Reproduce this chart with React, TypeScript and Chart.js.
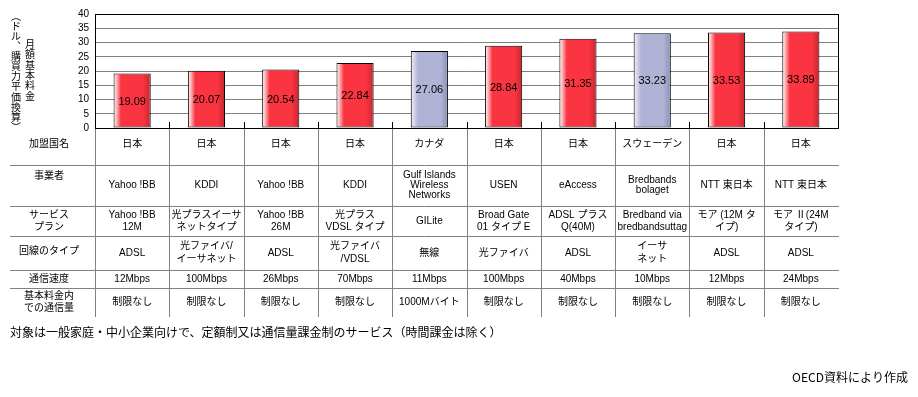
import { useEffect, useRef } from 'react';
import { Chart, registerables } from 'chart.js';
Chart.register(...registerables);

const values = [19.09, 20.07, 20.54, 22.84, 27.06, 28.84, 31.35, 33.23, 33.53, 33.89];
const countries = ['日本', '日本', '日本', '日本', 'カナダ', '日本', '日本', 'スウェーデン', '日本', '日本'];
const operators = ['Yahoo !BB', 'KDDI', 'Yahoo !BB', 'KDDI', 'Gulf Islands\nWireless\nNetworks', 'USEN', 'eAccess', 'Bredbands\nbolaget', 'NTT 東日本', 'NTT 東日本'];
const plans = ['Yahoo !BB\n12M', '光プラスイーサ\nネットタイプ', 'Yahoo !BB\n26M', '光プラス\nVDSL タイプ', 'GILite', 'Broad Gate\n01 タイプ E', 'ADSL プラス\nQ(40M)', 'Bredband via\nbredbandsuttag', 'モア (12M タ\nイプ)', 'モア Ⅱ(24M\nタイプ)'];
const lineTypes = ['ADSL', '光ファイバ/\nイーサネット', 'ADSL', '光ファイバ\n/VDSL', '無線', '光ファイバ', 'ADSL', 'イーサ\nネット', 'ADSL', 'ADSL'];
const speeds = ['12Mbps', '100Mbps', '26Mbps', '70Mbps', '11Mbps', '100Mbps', '40Mbps', '10Mbps', '12Mbps', '24Mbps'];
const volumes = ['制限なし', '制限なし', '制限なし', '制限なし', '1000Mバイト', '制限なし', '制限なし', '制限なし', '制限なし', '制限なし'];
const rowLabels = ['加盟国名', '事業者', 'サービス\nプラン', '回線のタイプ', '通信速度', '基本料金内\nでの通信量'];
const yTitleRight = '月額基本料金';
const yTitleLeft = '︵ドル︑購買力平価換算︶';
const footnote = '対象は一般家庭・中小企業向けで、定額制又は通信量課金制のサービス（時間課金は除く）';
const source = 'OECD資料により作成';

const FONT = '"Liberation Sans", "Noto Sans CJK JP", sans-serif';
const CJK = '"Noto Sans CJK JP", sans-serif';
const rowHeights = [37, 41, 30, 34, 18, 29];
const lineHeights = [11, 10, 12, 13, 11, 12];

const isJapan = (i: number) => countries[i] === '日本';

const tablePlugin = {
  id: 'tablePlugin',
  afterDatasetsDraw(chart: any) {
    const { ctx, chartArea: a, scales } = chart;
    const x = scales.x;
    const n = values.length;
    const cw = (a.right - a.left) / n;
    ctx.save();
    // value labels
    ctx.font = '11px ' + FONT;
    ctx.fillStyle = '#000';
    ctx.textAlign = 'center';
    ctx.textBaseline = 'middle';
    const meta = chart.getDatasetMeta(0);
    meta.data.forEach((bar: any, i: number) => {
      const p = bar.getProps(['x', 'y', 'base'], true);
      ctx.fillText(values[i].toFixed(2), p.x, (p.y + p.base) / 2 + 1);
    });
    // frame
    ctx.strokeStyle = '#000';
    ctx.lineWidth = 1;
    ctx.strokeRect(Math.round(a.left) + 0.5, Math.round(a.top) + 0.5, Math.round(a.right - a.left), Math.round(a.bottom - a.top));
    const bottom = Math.round(a.bottom);
    const tableBottom = bottom + rowHeights.reduce((s, h) => s + h, 0);
    // tick marks above axis
    for (let i = 1; i < n; i++) {
      const px = Math.round(a.left + i * cw) + 0.5;
      ctx.beginPath();
      ctx.moveTo(px, bottom - 6);
      ctx.lineTo(px, bottom);
      ctx.stroke();
    }
    // table lines
    ctx.strokeStyle = '#808080';
    for (let i = 0; i < n; i++) {
      const px = Math.round(a.left + i * cw) + 0.5;
      ctx.beginPath();
      ctx.moveTo(px, bottom + 1);
      ctx.lineTo(px, tableBottom);
      ctx.stroke();
    }
    let yy = bottom;
    for (let r = 0; r < rowHeights.length - 1; r++) {
      yy += rowHeights[r];
      ctx.beginPath();
      ctx.moveTo(10, yy + 0.5);
      ctx.lineTo(Math.round(a.right) + 1, yy + 0.5);
      ctx.stroke();
    }
    // table text
    const rows = [countries, operators, plans, lineTypes, speeds, volumes];
    ctx.font = '10px ' + FONT;
    ctx.fillStyle = '#000';
    let top = bottom;
    rows.forEach((row, r) => {
      const h = rowHeights[r];
      const lh = lineHeights[r];
      const drawCell = (text: string, cx: number, centerY: number) => {
        const lines = text.split('\n');
        const sy = centerY - ((lines.length - 1) * lh) / 2;
        lines.forEach((ln, k) => ctx.fillText(ln, cx, sy + k * lh));
      };
      const cy = top + h / 2 + (r === 0 ? -2 : 0);
      row.forEach((t, i) => drawCell(t, x.getPixelForValue(i), cy));
      const labelY = r === 1 ? top + 11 : r === 3 ? cy - 2 : cy;
      drawCell(rowLabels[r], 49, labelY);
      top += h;
    });
    // y title (vertical)
    ctx.font = '10px ' + CJK;
    [...yTitleRight].forEach((ch, k) => ctx.fillText(ch, 30, 44 + k * 10.4));
    [...yTitleLeft].forEach((ch, k) => ctx.fillText(ch, 16, 16 + k * 10.1));
    // footnote and source
    ctx.font = '12px ' + CJK;
    ctx.textAlign = 'left';
    ctx.fillText(footnote, 10, 332);
    ctx.textAlign = 'right';
    ctx.fillText(source, 908, 377);
    ctx.restore();
  },
};

export default function App() {
  const ref = useRef<HTMLCanvasElement>(null);
  useEffect(() => {
    if (!ref.current) return;
    const chart = new Chart(ref.current, {
      type: 'bar',
      data: {
        labels: countries.map((c, i) => c + i),
        datasets: [
          {
            data: values,
            borderColor: '#000',
            borderWidth: 1,
            borderSkipped: false,
            barPercentage: 1,
            categoryPercentage: 0.5,
            backgroundColor: (c: any) => {
              const jp = isJapan(c.dataIndex ?? 0);
              const base = jp ? '#FA3440' : '#B0B3D6';
              const chart = c.chart;
              const xs = chart.scales && chart.scales.x;
              if (!xs || c.type !== 'data' || !chart.chartArea) return base;
              const cx = xs.getPixelForValue(c.dataIndex);
              const w = ((chart.chartArea.right - chart.chartArea.left) / values.length) * 0.5;
              const g = chart.ctx.createLinearGradient(cx - w / 2, 0, cx + w / 2, 0);
              if (jp) {
                g.addColorStop(0, '#FFF4F4');
                g.addColorStop(0.08, '#FBB8BA');
                g.addColorStop(0.2, '#FA3440');
                g.addColorStop(0.8, '#FA3440');
                g.addColorStop(1, '#C42630');
              } else {
                g.addColorStop(0, '#F4F4FA');
                g.addColorStop(0.08, '#D8D9EC');
                g.addColorStop(0.2, '#B0B3D6');
                g.addColorStop(0.8, '#B0B3D6');
                g.addColorStop(1, '#8C8FB4');
              }
              return g;
            },
          },
        ],
      },
      options: {
        responsive: false,
        animation: false,
        devicePixelRatio: 1,
        layout: { padding: { left: 0, top: 14, right: 80, bottom: 269 } },
        plugins: { legend: { display: false }, tooltip: { enabled: false } },
        scales: {
          x: { display: false },
          y: {
            min: 0,
            max: 40,
            afterFit: (s: any) => {
              s.width = 95;
            },
            ticks: {
              stepSize: 5,
              autoSkip: false,
              maxTicksLimit: 20,
              color: '#000',
              padding: 6,
              font: { family: FONT, size: 10 },
            },
            border: { display: false },
            grid: {
              drawTicks: false,
              color: (c: any) => (c.tick && (c.tick.value === 0 || c.tick.value === 40) ? 'rgba(0,0,0,0)' : '#808080'),
            },
          },
        },
      },
      plugins: [tablePlugin],
    });
    return () => chart.destroy();
  }, []);
  return (
    <div style={{ position: 'absolute', left: 0, top: 0, width: 918, height: 397, background: '#fff' }}>
      <canvas ref={ref} width={918} height={397} style={{ display: 'block' }} />
    </div>
  );
}
